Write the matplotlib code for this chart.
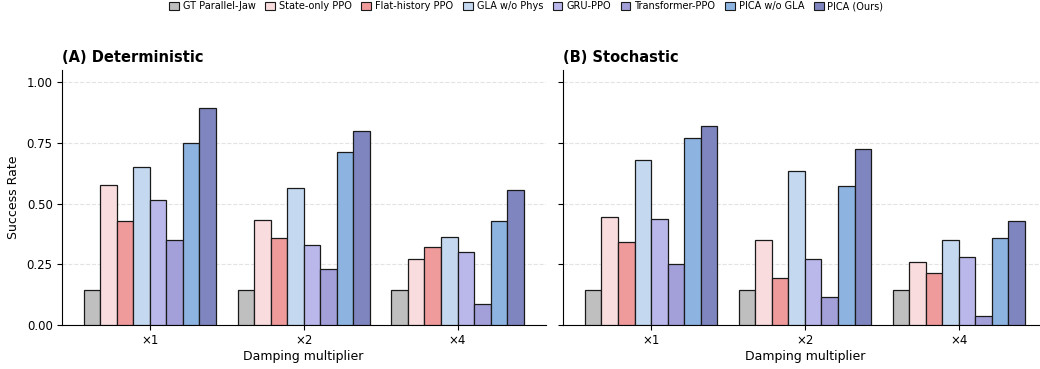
import matplotlib
matplotlib.use("Agg")
import matplotlib.pyplot as plt
import numpy as np
from matplotlib.patches import Patch

categories = ["×1", "×2", "×4"]
methods = ["GT Parallel-Jaw", "State-only PPO", "Flat-history PPO", "GLA w/o Phys",
           "GRU-PPO", "Transformer-PPO", "PICA w/o GLA", "PICA (Ours)"]
colors = ["#bfbfbf", "#f9dcdd", "#ef9a9b", "#c4d8f0", "#bab7ea", "#a29fd9", "#8db4e1", "#7f86bf"]

det_gt = [0.143, 0.143, 0.143]
det_state = [0.578, 0.434, 0.270]
det_flat = [0.428, 0.357, 0.321]
det_glanophys = [0.650, 0.564, 0.363]
det_gru = [0.514, 0.328, 0.300]
det_transf = [0.350, 0.229, 0.086]
det_picanogla = [0.750, 0.714, 0.428]
det_pica = [0.892, 0.800, 0.556]

sto_gt = [0.143, 0.143, 0.143]
sto_state = [0.443, 0.350, 0.258]
sto_flat = [0.343, 0.193, 0.214]
sto_glanophys = [0.679, 0.635, 0.350]
sto_gru = [0.436, 0.272, 0.279]
sto_transf = [0.250, 0.115, 0.037]
sto_picanogla = [0.772, 0.572, 0.358]
sto_pica = [0.821, 0.723, 0.429]

det = [det_gt, det_state, det_flat, det_glanophys, det_gru, det_transf, det_picanogla, det_pica]
sto = [sto_gt, sto_state, sto_flat, sto_glanophys, sto_gru, sto_transf, sto_picanogla, sto_pica]

fig = plt.figure(figsize=(10.4, 3.69), dpi=100)
ax1 = fig.add_axes([0.0593, 0.1192, 0.4654, 0.6911])
ax2 = fig.add_axes([0.5413, 0.1192, 0.4654, 0.6911], sharey=ax1)

x = np.arange(len(categories))
w = 0.1075
for ax, data, title in [(ax1, det, "(A) Deterministic"), (ax2, sto, "(B) Stochastic")]:
    for i, (vals, c) in enumerate(zip(data, colors)):
        ax.bar(x + (i - 3.5) * w, vals, w, color=c, edgecolor="#1a1a1a", linewidth=0.9, zorder=3)
    ax.set_xticks(x)
    ax.set_xticklabels(categories)
    ax.tick_params(axis="both", labelsize=8.5, pad=3)
    ax.set_xlabel("Damping multiplier", fontsize=9, labelpad=2)
    ax.set_ylim(0, 1.05)
    ax.set_yticks([0, 0.25, 0.5, 0.75, 1.0])
    ax.grid(axis="y", linestyle="--", color="#e3e3e3", linewidth=0.8, zorder=0)
    ax.set_axisbelow(True)
    for s in ["top", "right"]:
        ax.spines[s].set_visible(False)
    ax.set_title(title, loc="left", fontsize=10.5, fontweight="bold", pad=6)

ax1.set_ylabel("Success Rate", fontsize=9, labelpad=5)
ax1.yaxis.set_major_formatter(matplotlib.ticker.FormatStrFormatter("%.2f"))
plt.setp(ax2.get_yticklabels(), visible=False)

handles = [Patch(facecolor=c, edgecolor="#1a1a1a", linewidth=0.8, label=m) for m, c in zip(methods, colors)]
fig.legend(handles=handles, loc="upper center", bbox_to_anchor=(0.506, 1.02), ncol=8, frameon=False,
           fontsize=7, handlelength=1.0, handleheight=1.0, handletextpad=0.4, columnspacing=1.0)

fig.savefig("out.png", dpi=100)
